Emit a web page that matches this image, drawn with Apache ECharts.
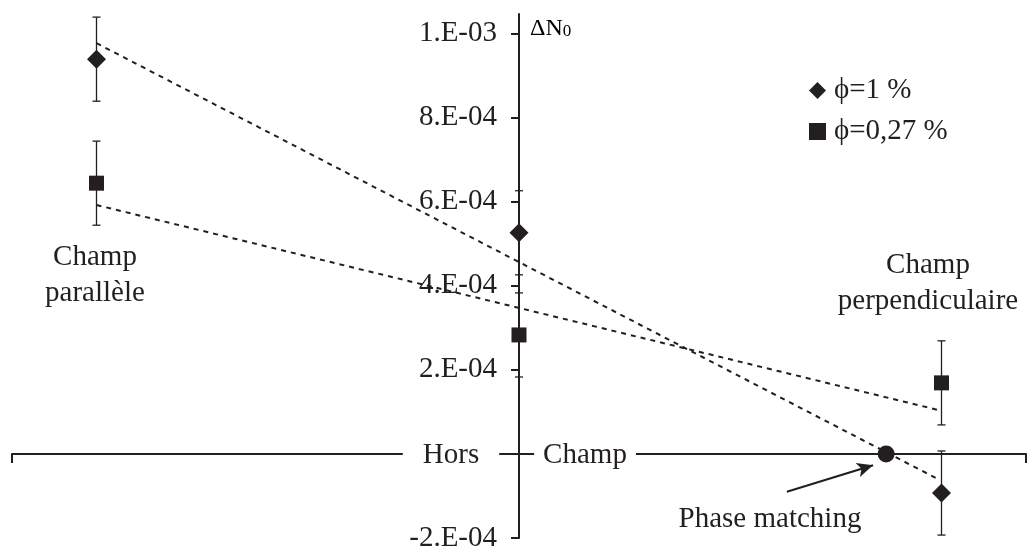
<!DOCTYPE html>
<html><head><meta charset="utf-8">
<script src="https://cdn.jsdelivr.net/npm/echarts@6/dist/echarts.min.js"></script>
<style>html,body{margin:0;padding:0;background:#fff}#c{width:1030px;height:550px}</style>
</head><body><div id="c"></div>
<script>
// x positions: -1 = Champ parallèle, 0 = Hors champ, 1 = Champ perpendiculaire
const categoriesX = [-1, 0, 1];
const seriesPhi1 = [9.39e-4, 5.26e-4, -0.93e-4];
const seriesPhi027 = [6.44e-4, 2.83e-4, 1.69e-4];
const errPhi1 = [1.0e-4, 1.0e-4, 1.0e-4];
const errPhi027 = [1.0e-4, 1.0e-4, 1.0e-4];
const trendPhi1 = [[-1, 9.77e-4], [0.99, -0.59e-4]];
const trendPhi027 = [[-1, 5.92e-4], [0.99, 1.05e-4]];
const phaseMatching = [[0.869, 0]];
const arrowFrom = [0.634, -0.90e-4];
const arrowTo = [0.838, -0.27e-4];
const yTicks = [-2e-4, 0, 2e-4, 4e-4, 6e-4, 8e-4, 1e-3];
const yTickLabels = ['-2.E-04', '', '2.E-04', '4.E-04', '6.E-04', '8.E-04', '1.E-03'];
const legendNames = ['\u03d5=1 %', '\u03d5=0,27 %'];

const INK = '#231f20';
const FONT = "'Liberation Serif', 'Times New Roman', serif";
const FS = 29;

const chart = echarts.init(document.getElementById('c'), null, {renderer: 'canvas'});

function errRender(params, api) {
  const x = api.value(0), y = api.value(1), e = api.value(2);
  const t = api.coord([x, y + e]), b = api.coord([x, y - e]);
  const hw = 4;
  const st = {stroke: INK, lineWidth: 1.3};
  return {type: 'group', children: [
    {type: 'line', shape: {x1: t[0], y1: t[1], x2: b[0], y2: b[1]}, style: st},
    {type: 'line', shape: {x1: t[0] - hw, y1: t[1], x2: t[0] + hw, y2: t[1]}, style: st},
    {type: 'line', shape: {x1: b[0] - hw, y1: b[1], x2: b[0] + hw, y2: b[1]}, style: st}
  ]};
}

const option = {
  backgroundColor: '#fff',
  animation: false,
  textStyle: {fontFamily: FONT, color: INK},
  grid: {left: 12, right: 4, top: 14, bottom: 12, containLabel: false, outerBoundsMode: 'none'},
  xAxis: {
    type: 'value', min: -1.2, max: 1.2, interval: 1.2,
    axisLine: {onZero: true, lineStyle: {color: INK, width: 2}},
    axisTick: {show: true, customValues: [-1.2, 1.2], length: 9, lineStyle: {color: INK, width: 2}},
    axisLabel: {show: false},
    splitLine: {show: false}
  },
  yAxis: {
    type: 'value', min: -2e-4, max: 1.0464e-3, interval: 2e-4,
    position: 'left', offset: -507,
    axisLine: {onZero: false, lineStyle: {color: INK, width: 2}},
    axisTick: {show: true, customValues: yTicks, length: 8, lineStyle: {color: INK, width: 2}},
    axisLabel: {
      customValues: yTicks, margin: 22,
      fontFamily: FONT, fontSize: FS, color: INK,
      formatter: function (v) {
        for (let i = 0; i < yTicks.length; i++) {
          if (Math.abs(v - yTicks[i]) < 1e-9) return yTickLabels[i];
        }
        return '';
      }
    },
    splitLine: {show: false}
  },
  legend: {
    orient: 'vertical', left: 804, top: 71, itemGap: 12,
    itemWidth: 17, itemHeight: 17,
    data: [{name: legendNames[0], icon: 'diamond'}, {name: legendNames[1], icon: 'rect'}],
    textStyle: {fontFamily: FONT, fontSize: FS, color: INK, padding: [0, 0, 0, 3]},
    selectedMode: false
  },
  series: [
    {type: 'line', data: trendPhi1, symbol: 'none', silent: true, z: 2,
     lineStyle: {color: INK, width: 2, type: [5, 5]}},
    {type: 'line', data: trendPhi027, symbol: 'none', silent: true, z: 2,
     lineStyle: {color: INK, width: 2, type: [5, 5]}},
    {type: 'custom', renderItem: errRender, silent: true, z: 3,
     data: categoriesX.map((x, i) => [x, seriesPhi1[i], errPhi1[i]])},
    {type: 'custom', renderItem: errRender, silent: true, z: 3,
     data: categoriesX.map((x, i) => [x, seriesPhi027[i], errPhi027[i]])},
    {name: legendNames[0], type: 'scatter', symbol: 'diamond', symbolSize: [19, 19], z: 5,
     itemStyle: {color: INK, opacity: 1},
     data: categoriesX.map((x, i) => [x, seriesPhi1[i]])},
    {name: legendNames[1], type: 'scatter', symbol: 'rect', symbolSize: [15, 15], z: 5,
     itemStyle: {color: INK, opacity: 1},
     data: categoriesX.map((x, i) => [x, seriesPhi027[i]])},
    {name: 'Phase matching', type: 'scatter', symbol: 'circle', symbolSize: 17, z: 5,
     itemStyle: {color: INK, opacity: 1},
     data: phaseMatching,
     markLine: {
       silent: true, symbol: ['none', 'arrow'], symbolSize: [11, 16],
       lineStyle: {type: 'solid', color: INK, width: 2.2},
       label: {show: false},
       emphasis: {disabled: true},
       data: [[{coord: arrowFrom}, {coord: arrowTo}]]
     }}
  ],
  graphic: [
    {type: 'text', x: 95, y: 275, z: 100,
     style: {text: 'Champ\nparallèle', font: FS + 'px ' + FONT, fill: INK, align: 'center', verticalAlign: 'middle', lineHeight: 36}},
    {type: 'text', x: 928, y: 283, z: 100,
     style: {text: 'Champ\nperpendiculaire', font: FS + 'px ' + FONT, fill: INK, align: 'center', verticalAlign: 'middle', lineHeight: 36}},
    {type: 'text', x: 451, y: 455, z: 100,
     style: {text: 'Hors', font: FS + 'px ' + FONT, fill: INK, align: 'center', verticalAlign: 'middle', backgroundColor: '#fff', padding: [0, 20, 0, 20]}},
    {type: 'text', x: 585, y: 455, z: 100,
     style: {text: 'Champ', font: FS + 'px ' + FONT, fill: INK, align: 'center', verticalAlign: 'middle', backgroundColor: '#fff', padding: [0, 9, 0, 9]}},
    {type: 'text', x: 770, y: 519, z: 100,
     style: {text: 'Phase matching', font: FS + 'px ' + FONT, fill: INK, align: 'center', verticalAlign: 'middle'}},
    {type: 'text', x: 530, y: 29, z: 100,
     style: {text: '{a|ΔN}{b|0}', align: 'left', verticalAlign: 'middle',
       rich: {a: {fontFamily: FONT, fontSize: 24, color: INK}, b: {fontFamily: FONT, fontSize: 17, color: INK, padding: [5, 0, 0, 0]}}}}
  ]
};
chart.setOption(option);
</script>
</body></html>
